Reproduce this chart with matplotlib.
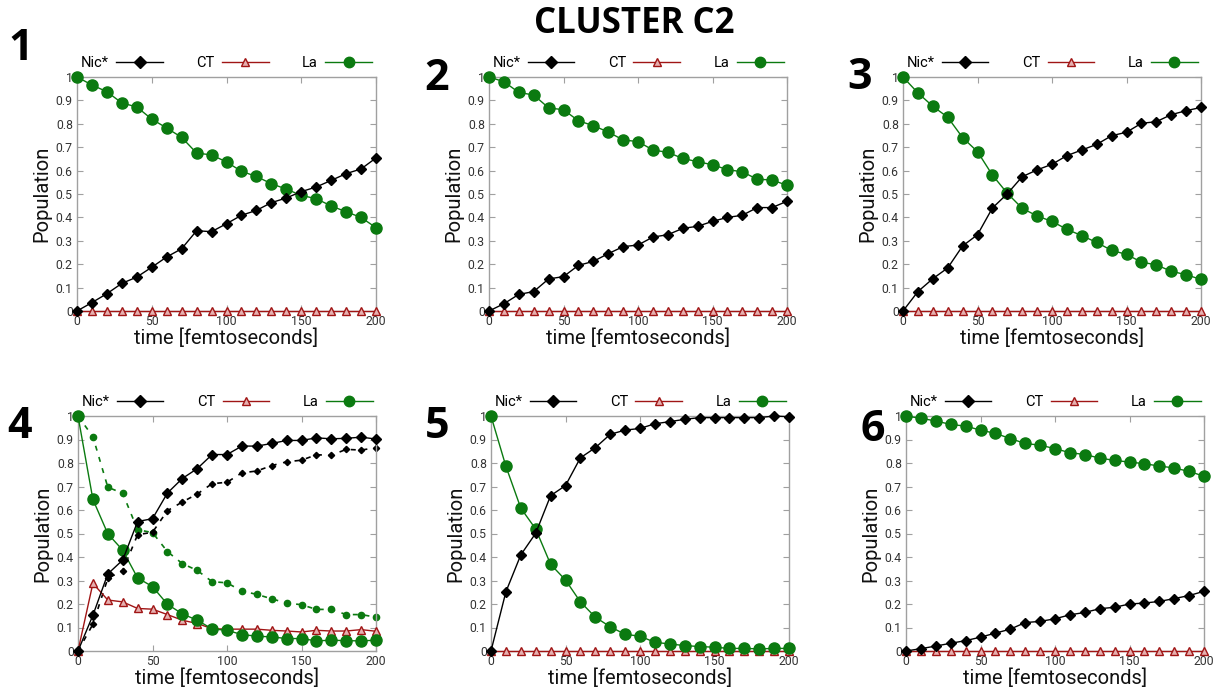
import matplotlib
matplotlib.use("Agg")
import matplotlib.pyplot as plt

# ---------------- data ----------------
time_fs = [0, 10, 20, 30, 40, 50, 60, 70, 80, 90, 100,
           110, 120, 130, 140, 150, 160, 170, 180, 190, 200]
zeros = [0.0] * 21

p1_nic = [0.0, 0.036, 0.074, 0.118, 0.145, 0.187, 0.231, 0.266, 0.343, 0.339, 0.373,
          0.409, 0.430, 0.463, 0.483, 0.510, 0.530, 0.558, 0.587, 0.607, 0.654]
p1_la = [1.0, 0.966, 0.937, 0.889, 0.872, 0.820, 0.782, 0.742, 0.675, 0.667, 0.637,
         0.597, 0.575, 0.544, 0.521, 0.494, 0.480, 0.449, 0.424, 0.400, 0.356]
p1_ct = zeros

p2_nic = [0.0, 0.031, 0.071, 0.083, 0.137, 0.147, 0.195, 0.212, 0.245, 0.275, 0.282,
          0.316, 0.326, 0.353, 0.362, 0.383, 0.400, 0.409, 0.442, 0.442, 0.469]
p2_la = [1.0, 0.980, 0.934, 0.923, 0.868, 0.860, 0.813, 0.792, 0.765, 0.731, 0.724,
         0.688, 0.678, 0.652, 0.638, 0.625, 0.604, 0.595, 0.563, 0.560, 0.537]
p2_ct = zeros

p3_nic = [0.0, 0.083, 0.138, 0.184, 0.278, 0.326, 0.440, 0.501, 0.574, 0.603, 0.627,
          0.664, 0.688, 0.712, 0.749, 0.764, 0.802, 0.809, 0.839, 0.856, 0.870]
p3_la = [1.0, 0.932, 0.875, 0.828, 0.741, 0.681, 0.581, 0.503, 0.439, 0.406, 0.383,
         0.349, 0.322, 0.293, 0.259, 0.242, 0.209, 0.197, 0.170, 0.155, 0.135]
p3_ct = zeros

p4_nic = [0.0, 0.152, 0.328, 0.387, 0.551, 0.563, 0.672, 0.734, 0.776, 0.836, 0.836,
          0.872, 0.872, 0.883, 0.896, 0.896, 0.907, 0.903, 0.905, 0.910, 0.902]
p4_la = [1.0, 0.645, 0.499, 0.429, 0.311, 0.274, 0.199, 0.158, 0.131, 0.094, 0.088,
         0.070, 0.063, 0.060, 0.053, 0.053, 0.043, 0.046, 0.044, 0.043, 0.046]
p4_ct = [0.0, 0.288, 0.217, 0.209, 0.181, 0.178, 0.155, 0.131, 0.117, 0.095, 0.093,
         0.093, 0.093, 0.088, 0.085, 0.081, 0.088, 0.085, 0.085, 0.091, 0.084]
p4_nic_dash = [0.0, 0.114, 0.309, 0.342, 0.495, 0.505, 0.597, 0.634, 0.668, 0.712, 0.718,
               0.758, 0.766, 0.789, 0.805, 0.812, 0.835, 0.833, 0.858, 0.855, 0.865]
p4_la_dash = [1.0, 0.912, 0.697, 0.671, 0.516, 0.504, 0.423, 0.372, 0.343, 0.295, 0.290,
              0.255, 0.241, 0.222, 0.204, 0.197, 0.177, 0.177, 0.155, 0.155, 0.144]

p5_nic = [0.0, 0.252, 0.409, 0.501, 0.661, 0.704, 0.822, 0.865, 0.922, 0.940, 0.947,
          0.967, 0.976, 0.986, 0.993, 0.993, 0.993, 0.993, 0.993, 1.0, 0.997]
p5_la = [1.0, 0.786, 0.608, 0.519, 0.369, 0.302, 0.209, 0.144, 0.103, 0.071, 0.063,
         0.037, 0.030, 0.023, 0.019, 0.016, 0.011, 0.011, 0.009, 0.011, 0.011]
p5_ct = zeros

p6_nic = [0.0, 0.010, 0.021, 0.033, 0.044, 0.059, 0.076, 0.093, 0.121, 0.126, 0.137,
          0.154, 0.164, 0.180, 0.186, 0.200, 0.204, 0.211, 0.223, 0.236, 0.254]
p6_la = [1.0, 0.990, 0.979, 0.964, 0.957, 0.940, 0.926, 0.904, 0.883, 0.876, 0.861,
         0.844, 0.836, 0.821, 0.811, 0.804, 0.797, 0.787, 0.779, 0.764, 0.744]
p6_ct = zeros

panel_labels = ["1", "2", "3", "4", "5", "6"]
series_names = ["Nic*", "CT", "La"]
title_text = "CLUSTER C2"
xlabel_text = "time [femtoseconds]"
ylabel_text = "Population"
x_ticks = [0, 50, 100, 150, 200]
y_ticks = [0, 0.1, 0.2, 0.3, 0.4, 0.5, 0.6, 0.7, 0.8, 0.9, 1.0]
y_tick_labels = ["0", "0.1", "0.2", "0.3", "0.4", "0.5", "0.6", "0.7", "0.8", "0.9", "1"]

panels = [
    (p1_nic, p1_ct, p1_la, None, None),
    (p2_nic, p2_ct, p2_la, None, None),
    (p3_nic, p3_ct, p3_la, None, None),
    (p4_nic, p4_ct, p4_la, p4_nic_dash, p4_la_dash),
    (p5_nic, p5_ct, p5_la, None, None),
    (p6_nic, p6_ct, p6_la, None, None),
]

# ---------------- style ----------------
W, H = 1218, 698
GREEN = "#0b7a10"
RED = "#a01515"
BLACK = "#000000"
FRAME = "#a0a0a0"
TICKC = "#333333"
FONT = "Roboto"

fig = plt.figure(figsize=(W / 100, H / 100), dpi=100)

# axes boxes in pixels: (left, top, right, bottom)
boxes = [
    (77, 77, 376, 311),
    (489, 77, 787, 311),
    (903, 77, 1201, 311),
    (78, 416, 376, 651),
    (491, 416, 789, 651),
    (906, 416, 1204, 651),
]
num_pos = [(21, 48.5), (437, 78.5), (860, 77.5), (19, 426.5), (437, 426.5), (873, 429.5)]

for i, (box, data) in enumerate(zip(boxes, panels)):
    l, t, r, b = box
    ax = fig.add_axes([l / W, 1 - b / H, (r - l) / W, (b - t) / H])
    nic, ct, la, nic_d, la_d = data

    if nic_d is not None:
        ax.plot(time_fs, la_d, color=GREEN, lw=1.2, ls=(0, (3, 4)), marker="o",
                ms=4.5, mec=GREEN, clip_on=False, zorder=2, label="_nolegend_")
        ax.plot(time_fs, nic_d, color=BLACK, lw=1.2, ls=(0, (3, 4)), marker="D",
                ms=3.2, clip_on=False, zorder=2, label="_nolegend_")

    ax.plot(time_fs, nic, color=BLACK, lw=1.0, marker="D", ms=5.3,
            clip_on=False, zorder=4, label=series_names[0])
    ax.plot(time_fs, ct, color=RED, lw=1.0, marker="^", ms=6,
            mfc="#e6b0b0", mec=RED, mew=1.0, clip_on=False, zorder=3, label=series_names[1])
    ax.plot(time_fs, la, color=GREEN, lw=1.0, marker="o", ms=8,
            mec=GREEN, mfc=GREEN, clip_on=False, zorder=3, label=series_names[2])

    ax.set_xlim(0, 200)
    ax.set_ylim(0, 1)
    ax.set_xticks(x_ticks)
    ax.set_yticks(y_ticks)
    ax.set_yticklabels(y_tick_labels)
    ax.tick_params(direction="in", length=4, width=0.8, color=FRAME,
                   labelsize=8.8, labelcolor=TICKC, top=True, right=True, pad=3)
    for lab in ax.get_xticklabels() + ax.get_yticklabels():
        lab.set_fontfamily(FONT)
    for s in ax.spines.values():
        s.set_color(FRAME)
        s.set_linewidth(1.0)

    ax.set_xlabel(xlabel_text, fontsize=14.5, family=FONT, color="#111111", labelpad=0)
    ax.set_ylabel(ylabel_text, fontsize=14.5, family=FONT, color="#111111", labelpad=3)

    leg = ax.legend(ncol=3, markerfirst=False, frameon=False, loc="lower center",
                    bbox_to_anchor=(0.5, 0.99), handlelength=3.2, columnspacing=2.3,
                    handletextpad=0.5, borderaxespad=0.25,
                    prop={"family": FONT, "size": 10.5})
    for h in leg.legend_handles:
        h.set_markersize(6 if h.get_marker() != "o" else 7.5)

    nx, ny = num_pos[i]
    fig.text(nx / W, 1 - ny / H, panel_labels[i], fontsize=31, fontweight="bold",
             family="Open Sans", ha="center", va="center", zorder=10)

fig.text(634 / W, 1 - 24 / H, title_text, fontsize=25, fontweight="bold",
         family="Open Sans", ha="center", va="center")

fig.savefig("out.png", dpi=100)
